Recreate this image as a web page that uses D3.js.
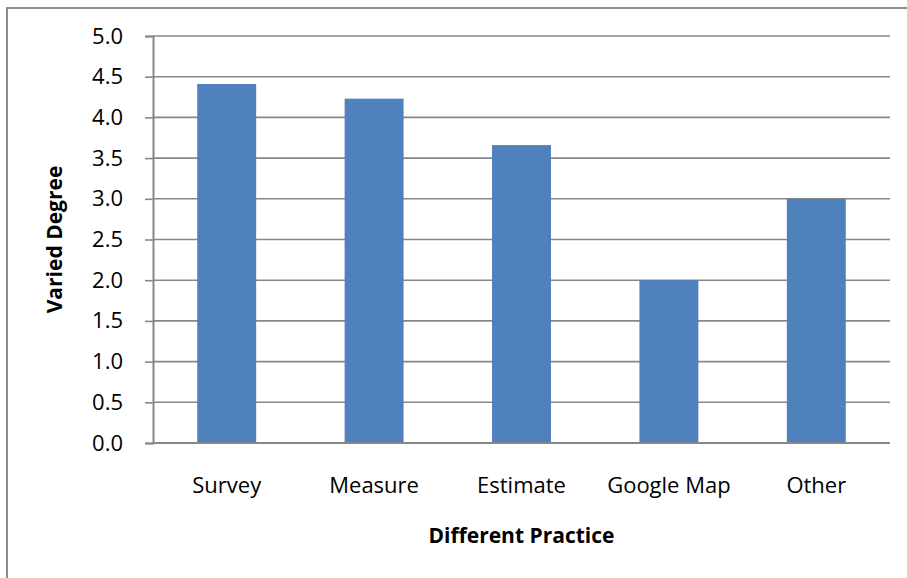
<!DOCTYPE html>
<html>
<head>
<meta charset="utf-8">
<script src="https://cdn.jsdelivr.net/npm/d3@7"></script>
<style>
  html, body { margin: 0; padding: 0; background: #fff; }
  svg { display: block; }
  text { font-family: "Open Sans", "Noto Sans", sans-serif; fill: #000; }
</style>
</head>
<body>
<svg id="chart" width="907" height="578"></svg>
<script>
// Average variation reported for each practice
const categories = ["Survey", "Measure", "Estimate", "Google Map", "Other"];
const values = [4.41, 4.23, 3.66, 2.0, 3.0];
const yTicks = [0, 0.5, 1, 1.5, 2, 2.5, 3, 3.5, 4, 4.5, 5];
const xTitle = "Different Practice";
const yTitle = "Varied Degree";

const svg = d3.select("#chart");
const W = 907, H = 578;
const plot = { left: 153, right: 890, top: 36, bottom: 443 };
const gridColor = "#878787";
const barColor = "#4F81BD";

// Chart-area frame (left and top edges visible)
svg.append("path")
  .attr("d", `M7,${H + 2} V8 H${W + 2}`)
  .attr("fill", "none")
  .attr("stroke", "#8c8c8c")
  .attr("stroke-width", 2);

const x = d3.scaleBand()
  .domain(categories)
  .range([plot.left, plot.right])
  .paddingInner(0.6)
  .paddingOuter(0.3);

const y = d3.scaleLinear()
  .domain([0, 5])
  .range([plot.bottom, plot.top]);

// Horizontal gridlines
svg.append("g")
  .selectAll("line")
  .data(yTicks.filter(t => t > 0))
  .join("line")
  .attr("x1", plot.left)
  .attr("x2", plot.right)
  .attr("y1", d => y(d))
  .attr("y2", d => y(d))
  .attr("stroke", gridColor)
  .attr("stroke-width", 1.6);

// Bars
svg.append("g")
  .selectAll("rect")
  .data(categories.map((c, i) => ({ c, v: values[i] })))
  .join("rect")
  .attr("x", d => x(d.c))
  .attr("width", x.bandwidth())
  .attr("y", d => y(d.v))
  .attr("height", d => y(0) - y(d.v))
  .attr("fill", barColor);

// Y axis with outward ticks
const yAxis = d3.axisLeft(y)
  .tickValues(yTicks)
  .tickFormat(d3.format(".1f"))
  .tickSize(8)
  .tickPadding(22);

const gy = svg.append("g")
  .attr("transform", `translate(${plot.left},0)`)
  .call(yAxis);
gy.select(".domain").attr("stroke", gridColor).attr("stroke-width", 2);
gy.selectAll(".tick line").attr("stroke", gridColor).attr("stroke-width", 1.6);
gy.selectAll(".tick text")
  .attr("font-size", 22)
  .attr("font-family", "'Open Sans', sans-serif")
  .attr("fill", "#000");

// X axis baseline and category labels
const xAxis = d3.axisBottom(x).tickSize(0).tickPadding(0);
const gx = svg.append("g")
  .attr("transform", `translate(0,${plot.bottom})`)
  .call(xAxis);
gx.select(".domain")
  .attr("d", `M${plot.left},0H${plot.right}`)
  .attr("stroke", gridColor)
  .attr("stroke-width", 2);
gx.selectAll(".tick text")
  .attr("y", 50)
  .attr("dy", null)
  .attr("font-size", 22)
  .attr("font-family", "'Open Sans', sans-serif")
  .attr("fill", "#000");

// Axis titles
svg.append("text")
  .attr("x", (plot.left + plot.right) / 2)
  .attr("y", 543)
  .attr("text-anchor", "middle")
  .attr("font-size", 21)
  .attr("font-weight", "bold")
  .text(xTitle);

svg.append("text")
  .attr("transform", `translate(62,${(plot.top + plot.bottom) / 2}) rotate(-90)`)
  .attr("text-anchor", "middle")
  .attr("font-size", 21)
  .attr("font-weight", "bold")
  .text(yTitle);
</script>
</body>
</html>
